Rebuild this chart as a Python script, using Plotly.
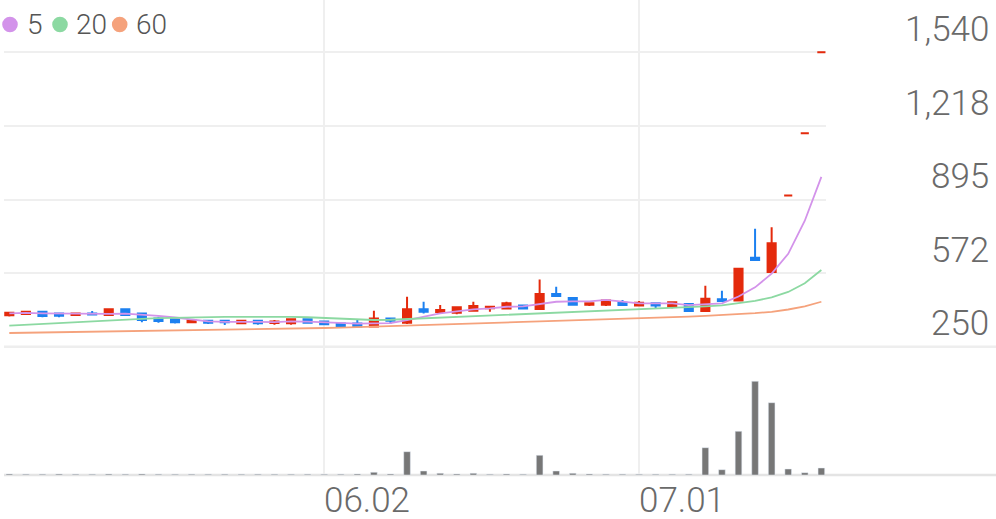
import plotly.graph_objects as go

# ---------------- data ----------------
day_index = list(range(50))
opens = [388, 393, 403, 396, 389, 396, 389, 414, 396, 374,
         370, 357, 364, 364, 353, 364, 354, 353, 370, 360,
         352, 352, 338, 374, 355, 414, 402, 399, 408, 418,
         417, 430, 415, 481, 463, 434, 434, 443, 431, 440,
         425, 437, 406, 458, 452, 640, 577, 913, 1185, 1540]
highs = [399, 404, 404, 396, 396, 406, 414, 414, 396, 381,
         370, 367, 364, 364, 364, 364, 367, 370, 370, 360,
         352, 367, 408, 374, 469, 447, 433, 425, 447, 426,
         447, 430, 545, 513, 463, 440, 459, 455, 450, 440,
         445, 437, 517, 495, 592, 767, 773, 913, 1185, 1540]
lows = [382, 389, 379, 379, 388, 391, 389, 389, 357, 355,
        352, 354, 350, 345, 353, 346, 346, 346, 355, 348,
        341, 338, 335, 350, 350, 396, 393, 392, 403, 403,
        416, 417, 411, 471, 434, 428, 428, 433, 431, 418,
        418, 406, 406, 450, 450, 630, 572, 913, 1185, 1540]
closes = [399, 403, 385, 386, 396, 391, 414, 389, 367, 363,
          357, 365, 355, 357, 364, 353, 360, 370, 355, 348,
          341, 338, 374, 364, 414, 403, 411, 423, 428, 425,
          440, 417, 481, 472, 434, 440, 452, 433, 443, 431,
          445, 406, 460, 450, 592, 630, 703, 913, 1185, 1540]
volume = [100, 80, 80, 90, 80, 70, 90, 80, 100, 80,
          70, 80, 70, 80, 70, 80, 70, 70, 80, 70,
          80, 100, 270, 100, 2330, 400, 170, 100, 170, 70,
          100, 70, 1970, 400, 170, 100, 80, 80, 70, 70,
          70, 80, 2730, 530, 4370, 9370, 7230, 600, 230, 700]
ma5 = [396, 398, 396, 395, 394, 392, 394, 395, 391, 385,
       378, 368, 361, 359, 360, 359, 358, 361, 360, 357,
       355, 351, 352, 353, 366, 380, 396, 405, 414, 418,
       425, 427, 438, 447, 449, 449, 455, 446, 440, 440,
       440, 432, 437, 440, 470, 510, 570, 657, 802, 994]
ma20 = [342, 346, 350, 355, 359, 362, 366, 369, 372, 375,
        377, 379, 380, 381, 381, 382, 382, 381, 379, 376,
        372, 369, 367, 368, 371, 374, 377, 380, 383, 386,
        389, 392, 395, 398, 401, 404, 407, 411, 414, 418,
        421, 424, 427, 431, 440, 451, 466, 490, 528, 586]
ma60 = [310, 311, 312, 313, 314.5, 316, 317, 318, 319.5, 320.5,
        322, 323, 324, 325.5, 326.5, 328, 329, 330, 331, 332,
        334, 336, 338, 340, 342.5, 345, 347, 349.5, 352, 354,
        356, 358.5, 361, 363, 365.5, 368, 370, 372.5, 375, 377,
        379, 382, 385, 388, 392, 397, 403, 413, 427, 447]
ma_names = ["5", "20", "60"]
x_tick_pos = [19, 38]
x_tick_labels = ["06.02", "07.01"]
y_tick_vals = [250, 572, 895, 1218, 1540]
y_tick_labels = ["250", "572", "895", "1,218", "1,540"]

# ---------------- styles ----------------
RED = "#e42a0c"
BLUE = "#1c80f0"
VOL_GRAY = "#777777"
MA_COLORS = ["#d393ea", "#8cd9a2", "#f5a27c"]
GRID = "#efefef"
AXIS_TXT = "#6a6a6a"
LEGEND_TXT = "#555555"
FONT = "Roboto"

W, H = 996, 519
ML, MR, MT, MB = 4, 170, 0, 44
PW, PH = W - ML - MR, H - MT - MB


def px_x(px):
    return (px - ML) / PW


def px_y(py):
    return (H - MB - py) / PH


fig = go.Figure()

for name, vals, col in zip(ma_names, [ma5, ma20, ma60], MA_COLORS):
    fig.add_trace(go.Scatter(x=day_index, y=vals, mode="lines", name=name,
                             line=dict(color=col, width=1.8),
                             showlegend=False, hoverinfo="skip"))

fig.add_trace(go.Candlestick(
    x=day_index, open=opens, high=highs, low=lows, close=closes,
    increasing=dict(line=dict(color=RED, width=2), fillcolor=RED),
    decreasing=dict(line=dict(color=BLUE, width=2), fillcolor=BLUE),
    whiskerwidth=0, showlegend=False, yaxis="y"))

fig.add_trace(go.Bar(x=day_index, y=volume, marker_color=VOL_GRAY, width=0.4,
                     yaxis="y2", showlegend=False))

annotations = []
shapes = []

# right-hand price labels (sit above their grid lines)
for v, lab in zip(y_tick_vals, y_tick_labels):
    annotations.append(dict(x=px_x(991), xref="paper", xanchor="right", y=v, yref="y",
                            yanchor="middle", yshift=22.8, text=lab, showarrow=False,
                            font=dict(family=FONT, size=35, color=AXIS_TXT, weight=300)))
# date labels, left-aligned on their grid lines
for p, lab in zip(x_tick_pos, x_tick_labels):
    annotations.append(dict(x=p, xref="x", xanchor="left", y=px_y(500), yref="paper",
                            yanchor="middle", height=34, valign="middle",
                            text=lab, showarrow=False, xshift=-2,
                            font=dict(family=FONT, size=35, color=AXIS_TXT, weight=300)))

# legend: coloured dots + labels
legend_dot_x = [10, 60, 119.7]
legend_txt_x = [24.5, 73.5, 133.5]
for name, col, dx, tx in zip(ma_names, MA_COLORS, legend_dot_x, legend_txt_x):
    shapes.append(dict(type="circle", xref="paper", yref="paper",
                       xsizemode="pixel", ysizemode="pixel",
                       xanchor=px_x(dx), yanchor=px_y(24.5),
                       x0=-7.8, x1=7.8, y0=-7.8, y1=7.8,
                       fillcolor=col, line=dict(width=0)))
    annotations.append(dict(x=px_x(tx), xref="paper", xanchor="left", y=px_y(24.3),
                            yref="paper", yanchor="middle", text=name, showarrow=False,
                            font=dict(family=FONT, size=28, color=LEGEND_TXT, weight=300)))

shapes += [
    dict(type="line", xref="paper", yref="paper", x0=0, x1=px_x(996),
         y0=px_y(346.7), y1=px_y(346.7),
         line=dict(color="#eeeeee", width=2.5), layer="below"),
    dict(type="line", xref="paper", yref="paper", x0=0, x1=px_x(996), y0=0, y1=0,
         line=dict(color="#e4e4e4", width=2.5), layer="below"),
]

fig.update_layout(
    width=W, height=H,
    margin=dict(l=ML, r=MR, t=MT, b=MB),
    paper_bgcolor="white", plot_bgcolor="white",
    font=dict(family=FONT, color=AXIS_TXT),
    xaxis=dict(range=[-0.32, 49.28], tickvals=x_tick_pos, showticklabels=False,
               showgrid=True, gridcolor=GRID, gridwidth=1.5, zeroline=False,
               showline=False, rangeslider=dict(visible=False), ticks=""),
    yaxis=dict(domain=[px_y(346.7), 1], range=[250, 1769.3], tickvals=y_tick_vals,
               showticklabels=False, showgrid=True, gridcolor=GRID, gridwidth=2,
               zeroline=False, showline=False, ticks=""),
    yaxis2=dict(domain=[0, px_y(346.7)], range=[0, 12830], showgrid=False,
                showticklabels=False, zeroline=False, showline=False),
    annotations=annotations, shapes=shapes,
    showlegend=False,
)

fig.write_html("out.html", config={"displayModeBar": False},
               post_script="document.body.style.margin='0';document.body.style.overflow='hidden';")
